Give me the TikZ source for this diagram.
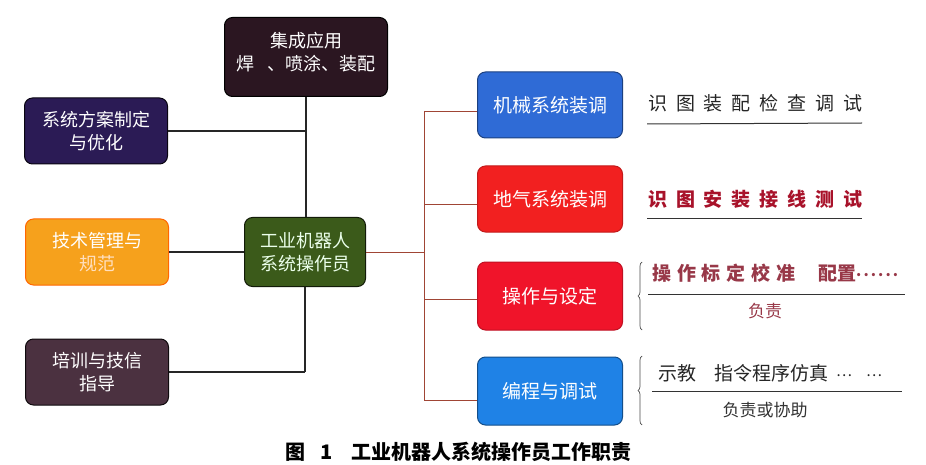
\documentclass[tikz,border=0pt]{standalone}
\usepackage{fontspec}
\newfontfamily\cjk{Noto Sans CJK SC}
\usetikzlibrary{decorations.pathreplacing}
\definecolor{cTop}{HTML}{2B1621}
\definecolor{cPur}{HTML}{2B1B55}
\definecolor{cOra}{HTML}{F6A11C}
\definecolor{cMau}{HTML}{4B3140}
\definecolor{cGrn}{HTML}{3B5A1A}
\definecolor{cBl1}{HTML}{2F6BD6}
\definecolor{cRd1}{HTML}{F22020}
\definecolor{cRd2}{HTML}{F0142A}
\definecolor{cBl2}{HTML}{1F82E6}
\definecolor{cLine}{HTML}{A04535}
\definecolor{cT2}{HTML}{A8122A}
\definecolor{cT3}{HTML}{983848}
\newcommand{\spr}[2]{\makebox[#1][s]{#2}}
\newcommand{\mdots}[1]{\raisebox{4pt}{\fontsize{15}{16}\selectfont #1}}
\tikzset{
  box/.style={draw, rounded corners=8pt, align=center, text=white, line width=1pt,
    font=\cjk\fontsize{18}{23}\selectfont, inner sep=2pt},
  lbox/.style={box, minimum width=143pt, minimum height=66pt},
  rbox/.style={box, minimum width=145pt, minimum height=66pt, font=\cjk\fontsize{19}{23}\selectfont},
  conn/.style={line width=1.2pt, black!85},
  rconn/.style={line width=0.9pt, cLine},
  rtext/.style={anchor=west, inner sep=0pt, font=\cjk\fontsize{19}{22}\selectfont},
  sub/.style={inner sep=0pt, font=\cjk\fontsize{17}{20}\selectfont},
  uline/.style={line width=1pt, black!80},
  brc/.style={decorate, decoration={brace, amplitude=4pt}, line width=0.7pt, black!70}
}
\begin{document}
\begin{tikzpicture}[x=1pt, y=-1pt]
\useasboundingbox[fill=white] (0,0) rectangle (926,465);
% nodes
\node[box, fill=cTop, draw=black, minimum width=163pt, minimum height=79pt] (top) at (306,57)
  {集成应用\\焊\hspace{14pt}、喷涂、装配\\[-12pt]\mbox{}};
\node[lbox, fill=cPur, draw=black!80!cPur] (L1) at (96,131) {系统方案制定\\与优化};
\node[lbox, fill=cOra, draw=orange!80!red] (L2) at (97,252) {技术管理与\\{\color{orange!25}规范}};
\node[lbox, fill=cMau, draw=black!80!cMau] (L3) at (97,372) {培训与技信\\指导};
\node[box, fill=cGrn, draw=black!70!cGrn, text=green!8!white, minimum width=121pt, minimum height=69pt] (ctr) at (305,252) {工业机器人\\系统操作员};
\node[rbox, fill=cBl1, draw=cBl1!60!black] (R1) at (550,105) {机械系统装调};
\node[rbox, fill=cRd1, draw=cRd1!80!black] (R2) at (550,199) {地气系统装调};
\node[rbox, fill=cRd2, draw=cRd2!80!black, minimum height=68pt] (R3) at (550,296) {操作与设定};
\node[rbox, fill=cBl2, draw=cBl2!60!black, minimum height=68pt] (R4) at (550,391) {编程与调试};
% left connectors
\draw[conn] (top.south) -- (top.south |- ctr.north);
\draw[conn] (L1.east) -- (L1.east -| top.south);
\draw[conn] (L2.east) -- (ctr.west);
\draw[conn] (ctr.south) -- (ctr.south |- L3.east);
\draw[conn] (L3.east) -- (ctr.south |- L3.east);
% right connectors
\coordinate (sp) at (424,252);
\coordinate (sp1) at (424,111);
\coordinate (sp2) at (424,204);
\coordinate (sp3) at (424,299);
\coordinate (sp4) at (424,400);
\draw[rconn] (ctr.east) -- (sp);
\draw[rconn] (sp1) -- (sp4);
\draw[rconn] (sp1) -- (R1.west |- sp1);
\draw[rconn] (sp2) -- (R2.west |- sp2);
\draw[rconn] (sp3) -- (R3.west |- sp3);
\draw[rconn] (sp4) -- (R4.west |- sp4);
% right texts
\node[rtext, text=black!85] (t1) at (648,103) {\spr{214pt}{识\hfill 图\hfill 装\hfill 配\hfill 检\hfill 查\hfill 调\hfill 试}};
\coordinate (u1a) at (647,124); \coordinate (u1b) at (862,123);
\draw[uline] (u1a) -- (u1b);
\node[rtext, text=cT2, font=\cjk\bfseries\fontsize{19}{22}\selectfont] (t2) at (648,199) {\spr{214pt}{识\hfill 图\hfill 安\hfill 装\hfill 接\hfill 线\hfill 测\hfill 试}};
\coordinate (u2a) at (647,219); \coordinate (u2b) at (862,219);
\draw[uline] (u2a) -- (u2b);
% item 3
\coordinate (b3a) at (642,330); \coordinate (b3b) at (642,262);
\draw[brc] (b3a) -- (b3b);
\node[rtext, text=cT3, font=\cjk\bfseries\fontsize{19}{22}\selectfont] (t3) at (652,273)
  {\spr{143pt}{操\hfill 作\hfill 标\hfill 定\hfill 校\hfill 准}\hspace{23pt}\spr{38pt}{配\hfill 置}\mdots{\spr{42pt}{.\hfill.\hfill.\hfill.\hfill.\hfill.}}};
\coordinate (u3a) at (648,294); \coordinate (u3b) at (905,294);
\draw[uline] (u3a) -- (u3b);
\node[sub, text=cT3] (s3) at (765,311) {负责};
% item 4
\coordinate (b4a) at (642,425); \coordinate (b4b) at (642,356);
\draw[brc] (b4a) -- (b4b);
\node[rtext, text=black!85] (t4) at (658,373)
  {示教\hspace{18pt}指令程序仿真\hspace{8pt}\mdots{…\hspace{14pt}…}};
\coordinate (u4a) at (652,391); \coordinate (u4b) at (902,391);
\draw[uline] (u4a) -- (u4b);
\node[sub, text=black!80] (s4) at (765,410) {负责或协助};
% caption
\node[anchor=west, inner sep=0pt, font=\cjk\bfseries\fontsize{20}{22}\selectfont] (cap) at (285,452)
  {图\hspace{15pt}1\hspace{19pt}工业机器人系统操作员工作职责};
\end{tikzpicture}
\end{document}
